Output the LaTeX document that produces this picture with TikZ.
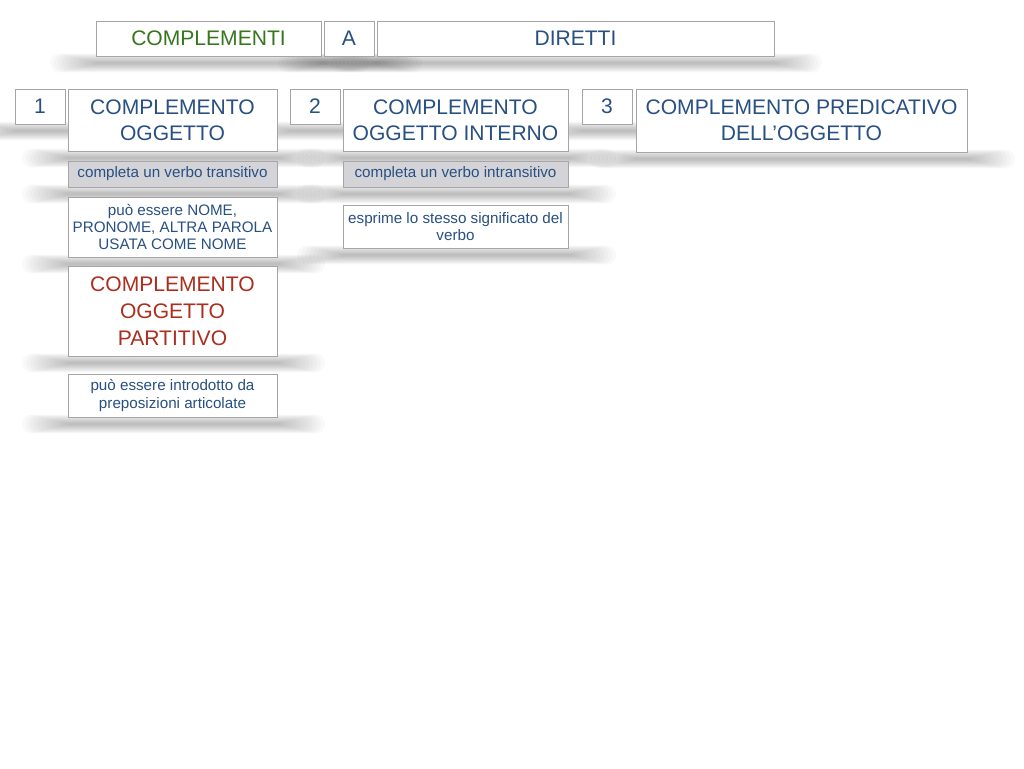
\documentclass[tikz,border=0pt]{standalone}
\usepackage{fontspec}
\setmainfont{Liberation Sans}
\usetikzlibrary{backgrounds}
\definecolor{txtblue}{RGB}{40,80,130}
\definecolor{txtgreen}{RGB}{56,118,29}
\definecolor{txtred}{RGB}{172,46,30}
\definecolor{boxgray}{RGB}{212,212,216}
\definecolor{edgegray}{RGB}{165,165,165}
\tikzset{
  boxbase/.style={draw=edgegray, line width=0.7pt, fill=white, inner sep=0pt, align=center, text=txtblue},
  bigtxt/.style={boxbase, font=\fontsize{15.8}{19.8}\selectfont},
  smalltxt/.style={boxbase, font=\fontsize{11.4}{12.8}\selectfont},
  graytxt/.style={smalltxt, fill=boxgray},
  greentxt/.style={bigtxt, text=txtgreen},
  redtxt/.style={bigtxt, text=txtred, font=\fontsize{15.8}{20.3}\selectfont},
  shadowband/.style={fill=black, opacity=0.022},
}
% #1 name, #2 x1, #3 y1, #4 x2, #5 y2, #6 style, #7 text
\newcommand\mybox[7]{%
  \begin{pgfonlayer}{background}
    \foreach \k in {0,...,11}{
      \pgfmathsetmacro\hh{1.2+0.75*\k}
      \fill[shadowband, rounded corners={\hh*0.75pt}]
        ({#2-2-4*\k},{#5+7-\hh}) rectangle ({#4+4+4*\k},{#5+7+\hh});
    }
  \end{pgfonlayer}
  \node[#6, minimum width={(#4-#2)*0.75pt}, minimum height={(#5-#3)*0.75pt}]
    (#1) at ({(#2+#4)/2},{(#3+#5)/2}) {#7};
}
\begin{document}
\begin{tikzpicture}[x=0.75pt, y=-0.75pt]
\useasboundingbox (0,0) rectangle (1024,768);
\mybox{compl}{96}{21}{321}{56}{greentxt}{COMPLEMENTI}
\mybox{a}{324}{21}{374}{56}{bigtxt}{A}
\mybox{diretti}{377}{21}{774}{56}{bigtxt}{DIRETTI}
\mybox{n1}{15}{89}{65}{124}{bigtxt}{1}
\mybox{co}{68}{89}{277}{151}{bigtxt}{COMPLEMENTO\\OGGETTO}
\mybox{n2}{290}{89}{340}{124}{bigtxt}{2}
\mybox{coi}{343}{89}{568}{151}{bigtxt}{COMPLEMENTO\\OGGETTO INTERNO}
\mybox{n3}{582}{89}{632}{124}{bigtxt}{3}
\mybox{cpo}{636}{89}{967}{152}{bigtxt}{COMPLEMENTO PREDICATIVO\\DELL’OGGETTO}
\mybox{tr}{68}{161}{277}{187}{graytxt}{completa un verbo transitivo}
\mybox{nome}{68}{197}{277}{257}{smalltxt}{può essere NOME,\\PRONOME, ALTRA PAROLA\\USATA COME NOME}
\mybox{part}{68}{266}{277}{356}{redtxt}{COMPLEMENTO\\OGGETTO\\PARTITIVO}
\mybox{intro}{68}{374}{277}{417}{smalltxt}{può essere introdotto da\\preposizioni articolate}
\mybox{intr}{343}{161}{568}{187}{graytxt}{completa un verbo intransitivo}
\mybox{espr}{343}{205}{568}{248}{smalltxt}{esprime lo stesso significato del\\verbo}
\end{tikzpicture}
\end{document}
